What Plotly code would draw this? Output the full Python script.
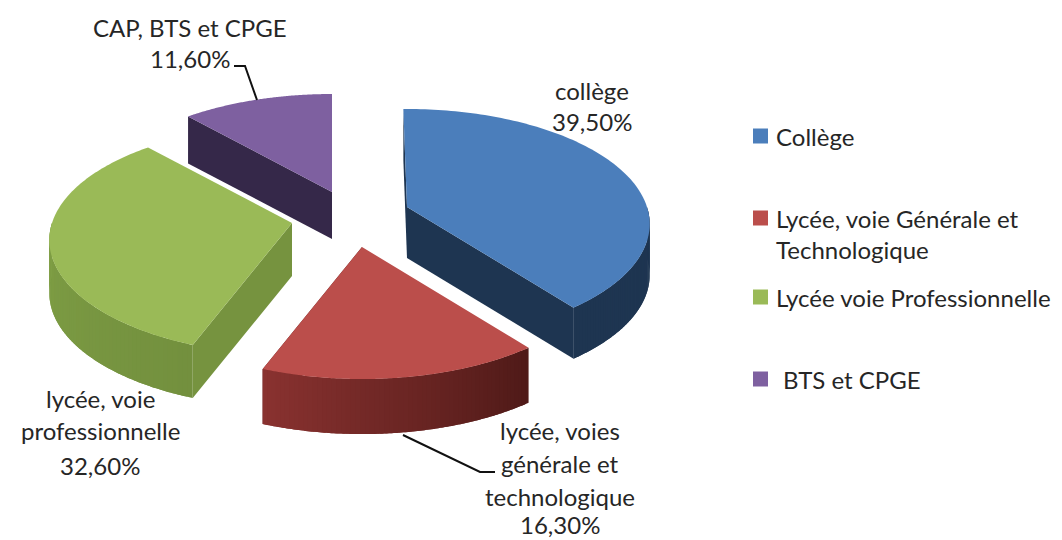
import numpy as np
import plotly.graph_objects as go

# ---- data ----
slice_names = ["collège", "lycée, voies générale et technologique", "lycée, voie professionnelle", "CAP, BTS et CPGE"]
slice_values = [39.5, 16.3, 32.6, 11.6]
legend_labels = ["Collège", "Lycée, voie Générale et<br>Technologique", "Lycée voie Professionnelle", "BTS et CPGE"]
value_labels = ["39,50%", "16,30%", "32,60%", "11,60%"]

# ---- style / layout ----
W, H = 1062, 540
top_colors = ["#4B7EBB", "#BB4E4B", "#9ABA57", "#7E60A0"]
cut_colors = ["#1E3551", "#5A1F1D", "#76933F", "#352849"]
wall_left = ["#1E3551", "#8A3230", "#7F9F45", "#352849"]
wall_right = ["#1E3551", "#4F1A18", "#73903E", "#352849"]
apexes = [(407, 207), (362, 247), (292, 223), (332, 192)]
depths = [51, 55, 53, 47]
rotations = [-1.0, 0.0, 0.0, 0.0]
RX, RY, K = 240.0, 112.5, 0.148
FONT = "Lato"
TXT = "#262626"


def proj(theta_deg):
    t = np.radians(theta_deg)
    u, v = np.sin(t), -np.cos(t)
    f = 1 / (1 - K * v)
    return RX * u * f, RY * v * f


def mix(a, b, s):
    ca = [int(a[i:i + 2], 16) for i in (1, 3, 5)]
    cb = [int(b[i:i + 2], 16) for i in (1, 3, 5)]
    return "#" + "".join(f"{int(round(x + (y - x) * s)):02x}" for x, y in zip(ca, cb))


def poly(fig, xs, ys, color, name):
    fig.add_trace(go.Scatter(
        x=list(xs), y=list(ys), mode="none", fill="toself", fillcolor=color,
        hoverinfo="text", text=name, showlegend=False))


fig = go.Figure()
total = sum(slice_values)
cum = np.concatenate([[0], np.cumsum(slice_values)]) / total * 360

for i in range(len(slice_values)):
    a0, a1 = cum[i] + rotations[i], cum[i + 1]
    ax, ay = apexes[i]
    d = depths[i]
    name = slice_names[i]

    # straight cut faces that look towards the viewer
    visible = {0: (a0, a1), 1: (a1,), 2: (a0,), 3: (a0,)}[i]
    for ang in visible:
        px, py = proj(ang)
        poly(fig, [ax, ax + px, ax + px, ax, ax], [ay, ay + py, ay + py + d, ay + d, ay], cut_colors[i], name)

    # outer rim, shaded across its width (each band overlaps the next to hide seams)
    lo, hi = max(a0, 90), min(a1, 270)
    if hi > lo:
        steps = np.linspace(lo, hi, 61)
        for j in range(60):
            band = np.linspace(steps[j], hi if j > 57 else steps[j + 2], 5)
            pts = [proj(a) for a in band]
            s = (hi - steps[j]) / (hi - lo)
            col = mix(wall_left[i], wall_right[i], s)
            xs = [ax + p[0] for p in pts] + [ax + p[0] for p in pts[::-1]]
            ys = [ay + p[1] for p in pts] + [ay + p[1] + d for p in pts[::-1]]
            poly(fig, xs, ys, col, name)

    # top face
    arc = np.linspace(a0, a1, 121)
    pts = [proj(a) for a in arc]
    poly(fig, [ax] + [ax + p[0] for p in pts] + [ax], [ay] + [ay + p[1] for p in pts] + [ay], top_colors[i], name)

# leader lines
fig.add_trace(go.Scatter(x=[234, 245, 257], y=[66, 66, 100], mode="lines",
                         line=dict(color="#111111", width=2), hoverinfo="skip", showlegend=False))
fig.add_trace(go.Scatter(x=[403, 480, 495], y=[435, 472, 472], mode="lines",
                         line=dict(color="#111111", width=2), hoverinfo="skip", showlegend=False))

annotations = []


def text(x, y, s, anchor="center", size=24):
    annotations.append(dict(x=x, y=y, text=s, xref="x", yref="y", showarrow=False, xanchor=anchor, yanchor="middle",
                            font=dict(family=FONT, size=size, color=TXT), align="left"))


label_lines = [
    (592, [90, 121], ["collège", value_labels[0]]),
    (560, [430, 463, 496, 524], ["lycée, voies", "générale et", "technologique", value_labels[1]]),
    (100, [398, 430, 465], ["lycée, voie", "professionnelle", value_labels[2]]),
    (190, [27, 58], ["CAP, BTS et CPGE", value_labels[3]]),
]
for cx, ys, lines in label_lines:
    for y, line in zip(ys, lines):
        text(cx, y, line)

shapes = []
legend_rows = [(136, 774), (218, 774), (297, 774), (379, 781)]
for i, (cy, tx) in enumerate(legend_rows):
    shapes.append(dict(type="rect", xref="x", yref="y", x0=753, x1=768, y0=cy - 7.5, y1=cy + 7.5,
                       fillcolor=top_colors[i], line=dict(width=0), layer="above"))
    parts = legend_labels[i].split("<br>")
    for k, part in enumerate(parts):
        text(tx, cy + k * 31, part, anchor="left")

fig.update_layout(
    width=W, height=H, autosize=False, margin=dict(l=0, r=0, t=0, b=0),
    paper_bgcolor="white", plot_bgcolor="white", showlegend=False,
    xaxis=dict(range=[0, W], visible=False, fixedrange=True),
    yaxis=dict(range=[H, 0], visible=False, fixedrange=True),
    annotations=annotations, shapes=shapes,
)
fig.write_html("out.html", config={"displayModeBar": False}, default_width=W, default_height=H,
               post_script="document.body.style.margin='0';")
